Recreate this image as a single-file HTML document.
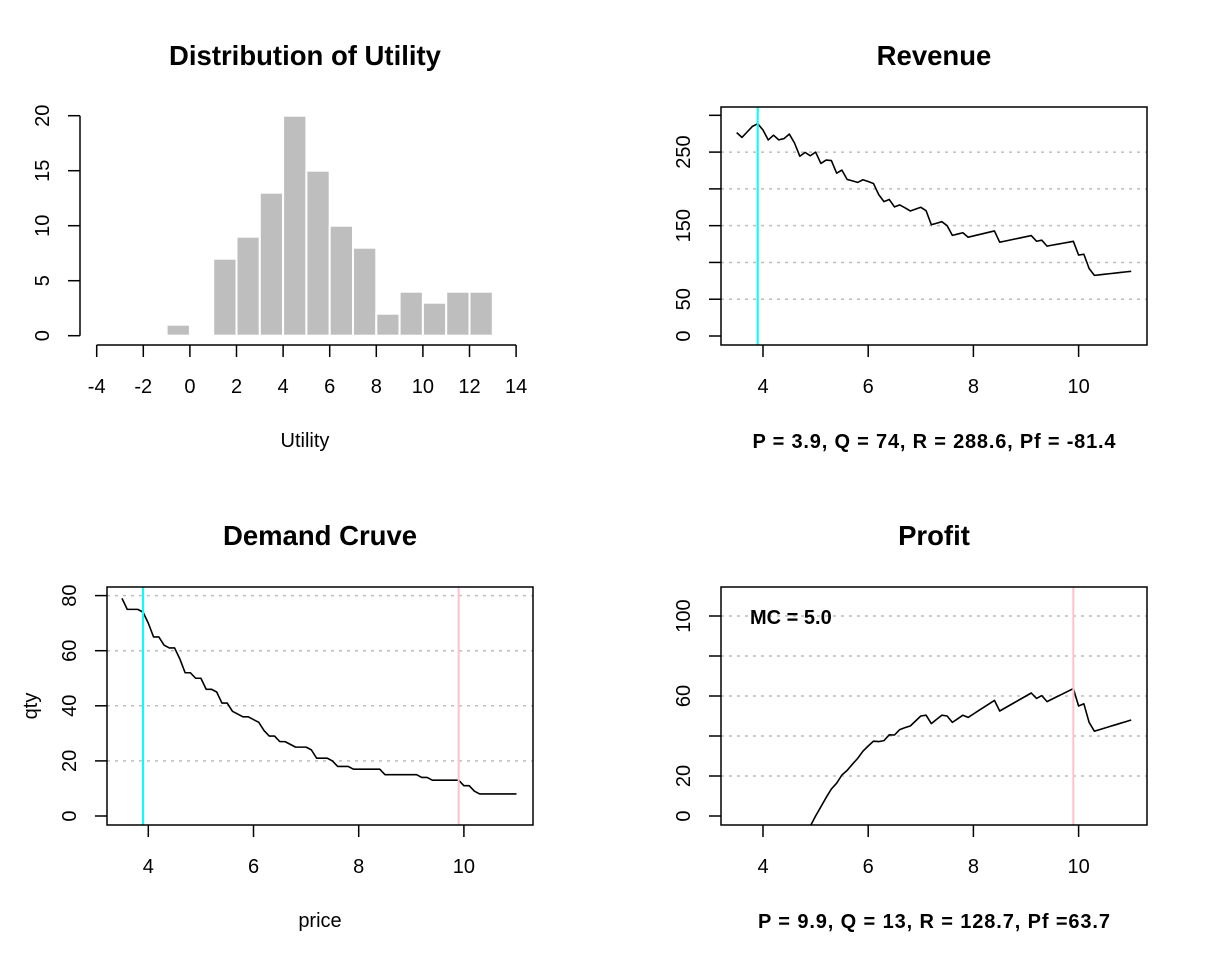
<!DOCTYPE html>
<html><head><meta charset="utf-8"><style>
html,body{margin:0;padding:0;background:#fff;overflow:hidden;width:1228px;height:960px}
svg{display:block}
svg text{font-family:"Liberation Sans",Arial,sans-serif;fill:#000}
</style></head><body>
<svg id="s" width="1228" height="960" viewBox="0 0 1228 960" xmlns="http://www.w3.org/2000/svg">
<rect width="1228" height="960" fill="#fff"/>
<defs>
<clipPath id="cr"><rect x="721" y="107" width="426" height="238"/></clipPath>
<clipPath id="cd"><rect x="107" y="587" width="426" height="238"/></clipPath>
<clipPath id="cp"><rect x="721" y="587" width="426" height="238"/></clipPath>
</defs>
<g id="g"></g>
</svg>
<script>
// Histogram data
const histBinStarts = [-1,0,1,2,3,4,5,6,7,8,9,10,11,12];
const histCounts = [1,0,7,9,13,20,15,10,8,2,4,3,4,4];
const histXTicks = [-4,-2,0,2,4,6,8,10,12,14];
const histYTicks = [0,5,10,15,20];
// Demand data (price grid and quantity)
const prices = [3.5,3.6,3.7,3.8,3.9,4.0,4.1,4.2,4.3,4.4,4.5,4.6,4.7,4.8,4.9,5.0,5.1,5.2,5.3,5.4,5.5,5.6,5.7,5.8,5.9,6.0,6.1,6.2,6.3,6.4,6.5,6.6,6.7,6.8,6.9,7.0,7.1,7.2,7.3,7.4,7.5,7.6,7.7,7.8,7.9,8.0,8.1,8.2,8.3,8.4,8.5,8.6,8.7,8.8,8.9,9.0,9.1,9.2,9.3,9.4,9.5,9.6,9.7,9.8,9.9,10.0,10.1,10.2,10.3,10.4,10.5,10.6,10.7,10.8,10.9,11.0];
const qty = [79,75,75,75,74,70,65,65,62,61,61,57,52,52,50,50,46,46,45,41,41,38,37,36,36,35,34,31,29,29,27,27,26,25,25,25,24,21,21,21,20,18,18,18,17,17,17,17,17,17,15,15,15,15,15,15,15,14,14,13,13,13,13,13,13,11,11,9,8,8,8,8,8,8,8,8];
const marginalCost = 5.0;
const revenueMaxPrice = 3.9;
const profitMaxPrice = 9.9;
const priceTicks = [4,6,8,10];
const revTicks = [0,50,100,150,200,250,300];
const revLabels = ["0","50","","150","","250",""];
const revGrid = [50,100,150,200,250];
const qtyTicks = [0,20,40,60,80];
const qtyGrid = [20,40,60,80];
const profitTicks = [0,20,40,60,80,100];
const profitLabels = ["0","20","","60","","100"];
const profitGrid = [20,40,60,80,100];

const NS="http://www.w3.org/2000/svg";
const G=document.getElementById('g');
function mk(tag,attrs,parent,text){const e=document.createElementNS(NS,tag);for(const k in attrs)e.setAttribute(k,attrs[k]);if(text!==undefined)e.textContent=text;(parent||G).appendChild(e);return e;}
function txt(x,y,s,size,bold,anchor,rot,name){
  const e=mk('text',{x:x,y:y,'font-size':size,'text-anchor':anchor||'middle','font-weight':bold?'bold':'normal'},G,s);
  if(rot)e.setAttribute('transform','rotate(-90 '+x+' '+y+')');
  
  
  return e;
}
function lin(x1,y1,x2,y2,st,w,dash,parent){return mk('line',{x1:x1,y1:y1,x2:x2,y2:y2,stroke:st,'stroke-width':w,'stroke-dasharray':dash||'none'},parent);}

// ---------- Histogram ----------
const hx=v=>96.7+(v+4)*23.3, hy=v=>335.7-v*11;
txt(305,65,'Distribution of Utility',27.5,true,'middle',false,'histogram-title');
histBinStarts.forEach((b,i)=>{
  if(histCounts[i]<=0)return;
  const r=mk('rect',{x:hx(b),y:hy(histCounts[i]),width:hx(b+1)-hx(b),height:hy(0)-hy(histCounts[i]),fill:'#bebebe',stroke:'#fff','stroke-width':2});
  
  
});
lin(80,hy(0),80,hy(20),'#000',1.5);
histYTicks.forEach(t=>{lin(68,hy(t),80,hy(t),'#000',1.5);txt(49,hy(t),String(t),20,false,'middle',true,'hist-y-tick-label');});
lin(hx(-4),345,hx(14),345,'#000',1.5);
histXTicks.forEach(t=>{lin(hx(t),345,hx(t),357,'#000',1.5);txt(hx(t),393,String(t),20,false,'middle',false,'hist-x-tick-label');});
txt(305,447,'Utility',20,false,'middle',false,'hist-x-axis-title');

// generic panel
function panel(L,T,R,B,xs,ys,yTicks,yLabels,grid,clip,name){
  const clipG=mk('g',{'clip-path':'url(#'+clip+')'});
  grid.forEach(v=>lin(L,ys(v),R,ys(v),'#bdbdbd',1.5,'3,5',clipG));
  const box=mk('rect',{x:L,y:T,width:R-L,height:B-T,fill:'none',stroke:'#000','stroke-width':1.5});
  
  
  yTicks.forEach((t,i)=>{lin(L-12,ys(t),L,ys(t),'#000',1.5);if(yLabels[i]!=='')txt(L-31,ys(t),yLabels[i],20,false,'middle',true,name+'-y-tick-label');});
  priceTicks.forEach(t=>{lin(xs(t),B,xs(t),B+12,'#000',1.5);txt(xs(t),B+48,String(t),20,false,'middle',false,name+'-x-tick-label');});
  return clipG;
}
// draws polyline, trimming the part below data value yLow
function series(xs,ys,vals,parent,name,yLow){
  let d='',pen=false;
  for(let i=0;i<prices.length;i++){
    const p=prices[i],v=vals[i];
    if(yLow!==undefined && v<yLow){
      if(pen && i>0){const p0=prices[i-1],v0=vals[i-1];const t=(yLow-v0)/(v-v0);d+='L'+xs(p0+t*(p-p0)).toFixed(2)+','+ys(yLow).toFixed(2)+' ';}
      pen=false;continue;
    }
    if(!pen){
      if(yLow!==undefined && i>0 && vals[i-1]<yLow){const p0=prices[i-1],v0=vals[i-1];const t=(yLow-v0)/(v-v0);d+='M'+xs(p0+t*(p-p0)).toFixed(2)+','+ys(yLow).toFixed(2)+' L';}
      else d+='M';
      pen=true;
    } else d+='L';
    d+=xs(p).toFixed(2)+','+ys(v).toFixed(2)+' ';
  }
  const e=mk('path',{d:d.trim(),fill:'none',stroke:'#000','stroke-width':1.6,'stroke-linejoin':'round'},parent);
  
  
}
function vline(xs,p,T,B,col,parent,name){const e=lin(xs(p),T,xs(p),B,col,2,null,parent);}

const revenue=prices.map((p,i)=>p*qty[i]);
const profit=prices.map((p,i)=>(p-marginalCost)*qty[i]);
const iR=prices.findIndex(p=>Math.abs(p-revenueMaxPrice)<1e-9);
const iP=prices.findIndex(p=>Math.abs(p-profitMaxPrice)<1e-9);

// ---------- Revenue ----------
const rx=v=>763+(v-4)*52.6, ry=v=>336-v*0.7356;
txt(934,65,'Revenue',27.5,true,'middle',false,'revenue-title');
let cg=panel(721,107,1147,345,rx,ry,revTicks,revLabels,revGrid,'cr','revenue');
series(rx,ry,revenue,cg,'revenue-line');
vline(rx,revenueMaxPrice,107,345,'#00ffff',cg,'revenue-max-marker');
let t1=txt(934,448,'P = '+prices[iR].toFixed(1)+', Q = '+qty[iR]+', R = '+revenue[iR].toFixed(1)+', Pf = '+profit[iR].toFixed(1),20,true,'middle',false,'revenue-summary');
t1.setAttribute('textLength','363');

// ---------- Demand ----------
const dx=v=>148.3+(v-4)*52.6, dy=v=>816-v*2.755;
txt(320,545,'Demand Cruve',27.5,true,'middle',false,'demand-title');
cg=panel(107,587,533,825,dx,dy,qtyTicks,qtyTicks.map(String),qtyGrid,'cd','demand');
series(dx,dy,qty,cg,'demand-line');
vline(dx,revenueMaxPrice,587,825,'#00ffff',cg,'demand-revenue-marker');
vline(dx,profitMaxPrice,587,825,'#ffc0cb',cg,'demand-profit-marker');
txt(320,927,'price',20,false,'middle',false,'demand-x-axis-title');
txt(37,706,'qty',20,false,'middle',true,'demand-y-axis-title');

// ---------- Profit ----------
const px=v=>763+(v-4)*52.6, py=v=>816-v*2.0;
txt(934,545,'Profit',27.5,true,'middle',false,'profit-title');
cg=panel(721,587,1147,825,px,py,profitTicks,profitLabels,profitGrid,'cp','profit');
series(px,py,profit,cg,'profit-line',-4.5);
vline(px,profitMaxPrice,587,825,'#ffc0cb',cg,'profit-max-marker');
txt(750,624,'MC = '+marginalCost.toFixed(1),20,true,'start',false,'marginal-cost-label');
let t2=txt(934,928,'P = '+prices[iP].toFixed(1)+', Q = '+qty[iP]+', R = '+revenue[iP].toFixed(1)+', Pf ='+profit[iP].toFixed(1),20,true,'middle',false,'profit-summary');
t2.setAttribute('textLength','352');
</script>
</body></html>
